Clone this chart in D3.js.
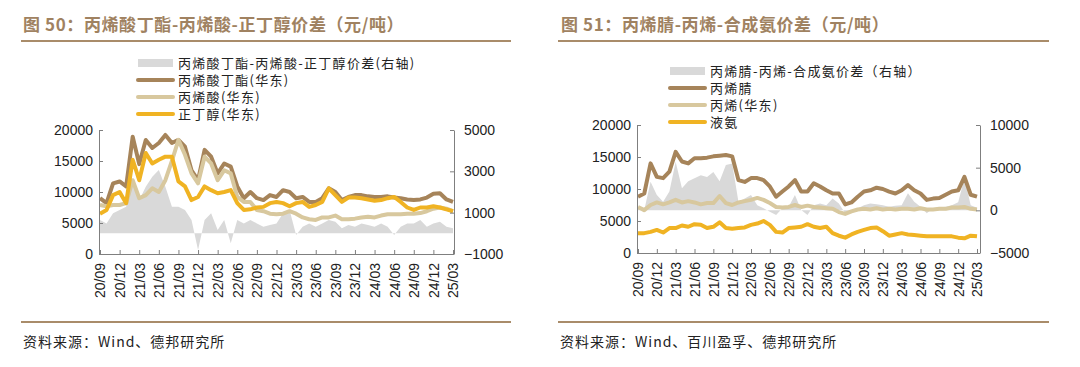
<!DOCTYPE html>
<html>
<head>
<meta charset="utf-8">
<script src="https://cdn.jsdelivr.net/npm/d3@7"></script>
<style>
  body { margin: 0; background: #fff; }
  svg { display: block; }
</style>
</head>
<body>
<svg id="chart" width="1080" height="367"></svg>
<script>
// tick labels, one every 3 months starting 2020/09 (data is monthly, index 0 = 20/09)
let tickLabels = ["20/09", "20/12", "21/03", "21/06", "21/09", "21/12", "22/03", "22/06", "22/09",
    "22/12", "23/03", "23/06", "23/09", "23/12", "24/03", "24/06", "24/09", "24/12", "25/03"];

// ---- left chart: 丙烯酸丁酯-丙烯酸-正丁醇价差
let butylAcrylate = [9000, 8200, 11400, 11700, 10900, 18900, 14500, 18400, 17100, 17900, 19200, 17900,
    18400, 17300, 13500, 11900, 16800, 15700, 13000, 14600, 14100, 10900, 9000, 10000,
    9000, 8700, 9500, 9200, 10300, 10000, 9000, 9200, 8400, 8400, 9000, 10600,
    10000, 8700, 9200, 9500, 9500, 9300, 9200, 9200, 9300, 9100, 9000, 8800,
    8700, 8800, 9100, 9700, 9800, 8800, 8400];
let acrylicAcid = [7900, 7700, 7900, 7900, 8200, 11900, 9000, 9500, 10600, 10000, 11900, 15000,
    18400, 16000, 13000, 11400, 15700, 14600, 11900, 13500, 13000, 9200, 8400, 8400,
    7100, 6900, 6500, 6400, 6500, 6900, 6500, 5900, 5600, 5500, 5900, 5900,
    6200, 5600, 5600, 5700, 5900, 6000, 5900, 6200, 6400, 6400, 6400, 6500,
    6500, 6600, 6900, 7300, 7500, 7300, 6900];
let butanol = [6500, 7100, 9500, 10000, 8200, 15200, 11900, 16300, 14600, 15200, 15700, 15700,
    11700, 10900, 8700, 9200, 10900, 10300, 9800, 10000, 10300, 8200, 7100, 7200,
    7500, 7600, 8200, 8400, 8200, 7700, 8200, 8400, 7600, 7900, 8400, 10600,
    9500, 8400, 9100, 9100, 9000, 8800, 8600, 8700, 9000, 9200, 8400, 7500,
    7100, 7500, 7500, 7700, 7500, 7200, 6900];
let baSpread = [650, 480, 970, 1130, 1290, 2420, 1600, 2260, 2740, 3060, 2260, 1290,
    1290, 1130, 650, -810, 650, 970, 160, 650, -480, 650, 480, 650,
    480, 320, 400, 480, 970, 1130, -80, 320, 480, 320, 480, 650,
    560, 240, 400, 320, 480, 400, 320, 480, 320, -80, 320, 480,
    480, 650, 320, 480, 560, 320, 240];

// ---- right chart: 丙烯腈-丙烯-合成氨价差
let acrylonitrile = [8800, 9300, 14000, 11900, 11700, 12700, 15800, 14300, 14000, 14800, 14800, 14900,
    15100, 15200, 15300, 15100, 11400, 11100, 11700, 11700, 11400, 10400, 8800, 9600,
    10400, 11400, 9600, 9600, 10900, 10400, 9800, 9300, 9300, 7600, 7900, 8800,
    9600, 9800, 10200, 10000, 9600, 9300, 9800, 10600, 9800, 9300, 8300, 8500,
    8600, 9100, 9600, 9800, 11900, 9100, 8800];
let propylene = [7200, 6700, 7500, 7900, 7600, 7900, 8300, 7900, 8100, 7900, 7600, 7800,
    7800, 8900, 7800, 7500, 7900, 8100, 8300, 8600, 8300, 7800, 7200, 7100,
    7200, 7500, 7200, 7400, 7200, 7100, 7000, 6900, 6400, 6100, 6500, 6800,
    6900, 6800, 7000, 6800, 6900, 6800, 6900, 6900, 6800, 7000, 6800, 6800,
    6900, 6900, 7100, 7100, 7200, 6900, 6800];
let ammonia = [3100, 3100, 3300, 3600, 3200, 3900, 3900, 4300, 4100, 4500, 4400, 3900,
    4100, 4800, 3900, 3800, 3900, 4000, 4400, 4600, 5000, 4400, 3300, 3200,
    3900, 4000, 4100, 4500, 4100, 3900, 4100, 3100, 2700, 2400, 2900, 3300,
    3600, 3900, 4000, 3400, 2700, 2900, 3100, 2900, 2800, 2700, 2600, 2600,
    2600, 2600, 2600, 2400, 2300, 2700, 2600];
let anSpread = [430, 40, 3360, 1800, 1000, 2200, 5700, 2600, 3400, 3750, 4100, 3900,
    4500, 3400, 5300, 5500, 1000, 1400, 1800, 600, 230, -160, -550, 230,
    430, 1800, 40, -550, 600, 800, 600, 1400, 800, -350, -160, 230,
    600, 800, 700, 600, 430, 550, 600, 2000, 1000, 430, -350, 230,
    310, 430, 600, 940, 3750, 600, 310];

let leftTicks = [0, 5000, 10000, 15000, 20000];

let svg = d3.select("#chart");

let colorDark = "#a6845a";
let colorTan = "#d8c89e";
let colorYellow = "#f0b323";
let colorGray = "#d9d9d9";
let titleColor = "#a08261";
let cjkFont = "'Noto Sans CJK SC', sans-serif";
let axisFont = "'Liberation Sans', Arial, sans-serif";

function drawChart(cfg) {
    let g = svg.append("g");

    // title + rules
    g.append("text")
        .attr("x", cfg.titleX)
        .attr("y", 31)
        .text(cfg.title)
        .style("font-family", cjkFont)
        .style("font-weight", "bold")
        .style("font-size", "17px")
        .style("letter-spacing", "0.6px")
        .style("fill", titleColor);

    g.append("line")
        .attr("x1", cfg.ruleX1).attr("x2", cfg.ruleX2)
        .attr("y1", 41).attr("y2", 41)
        .style("stroke", "#a98c6a")
        .style("stroke-width", 2);

    g.append("line")
        .attr("x1", cfg.ruleX1).attr("x2", cfg.ruleX2)
        .attr("y1", 322).attr("y2", 322)
        .style("stroke", "#a98c6a")
        .style("stroke-width", 2);

    g.append("text")
        .attr("x", cfg.ruleX1 + 2)
        .attr("y", 347)
        .text(cfg.source)
        .style("font-family", cjkFont)
        .style("font-size", "14px")
        .style("letter-spacing", "1px")
        .style("fill", "#222");

    let x = d3.scaleLinear()
        .domain([0, 54])
        .range([cfg.left, cfg.right]);

    let y = d3.scaleLinear()
        .domain([0, 20000])
        .range([cfg.bottom, cfg.top]);

    let y2 = d3.scaleLinear()
        .domain(cfg.rightDomain)
        .range([cfg.bottom, cfg.top]);

    // spread area (right axis)
    let area = d3.area()
        .x(function (d, i) { return x(i); })
        .y0(y2(0))
        .y1(function (d) { return y2(d); });

    g.append("path")
        .datum(cfg.spread)
        .attr("d", area)
        .style("fill", colorGray);

    let line = d3.line()
        .x(function (d, i) { return x(i); })
        .y(function (d) { return y(d); });

    cfg.lines.forEach(function (s) {
        g.append("path")
            .datum(s.values)
            .attr("d", line)
            .style("fill", "none")
            .style("stroke", s.color)
            .style("stroke-width", 4)
            .style("stroke-linejoin", "round");
    });

    // axes
    let xAxis = g.append("g")
        .attr("transform", "translate(0," + cfg.bottom + ")")
        .call(d3.axisBottom(x)
            .tickValues(d3.range(0, 55, 3))
            .tickFormat(function (d, i) { return tickLabels[i]; })
            .tickSizeInner(-4)
            .tickSizeOuter(0));
    xAxis.select(".domain").attr("d", "M" + (cfg.left - 1) + ",0.5H" + cfg.axisEnd);
    xAxis.selectAll("text")
        .attr("transform", "rotate(-90)")
        .attr("x", -9)
        .attr("y", 0)
        .attr("dy", "0.35em")
        .attr("text-anchor", "end")
        .style("font-family", axisFont)
        .style("font-size", "14px")
        .style("fill", "#222");

    let yAxis = g.append("g")
        .attr("transform", "translate(" + (cfg.left - 1) + ",0)")
        .call(d3.axisLeft(y)
            .tickValues(leftTicks)
            .tickFormat(d3.format("d"))
            .tickSizeInner(-4)
            .tickSizeOuter(0));
    yAxis.selectAll("text")
        .attr("x", -6)
        .style("font-family", axisFont)
        .style("font-size", "14px")
        .style("fill", "#222");

    let y2Axis = g.append("g")
        .attr("transform", "translate(" + cfg.axisEnd + ",0)")
        .call(d3.axisRight(y2)
            .tickValues(cfg.rightTicks)
            .tickFormat(d3.format("d"))
            .tickSizeInner(-4)
            .tickSizeOuter(0));
    y2Axis.selectAll("text")
        .attr("x", 10)
        .style("font-family", axisFont)
        .style("font-size", "14px")
        .style("fill", "#222");

    g.selectAll(".domain").style("stroke", "#7f7f7f");
    g.selectAll(".tick line").style("stroke", "#7f7f7f");

    // legend
    let legend = g.append("g")
        .selectAll("g")
        .data(cfg.legend)
        .enter()
        .append("g")
        .attr("transform", function (d, i) {
            return "translate(" + cfg.legendX + "," + (cfg.legendY + i * 17) + ")";
        });

    legend.each(function (d, i) {
        let item = d3.select(this);
        if (i === 0) {
            item.append("rect")
                .attr("x", 0).attr("y", -4)
                .attr("width", 35).attr("height", 8)
                .style("fill", colorGray);
        } else {
            item.append("line")
                .attr("x1", 0).attr("x2", 35)
                .attr("y1", 0).attr("y2", 0)
                .style("stroke", d.color)
                .style("stroke-width", 4)
                .style("stroke-linecap", "round");
        }
    });

    legend.append("text")
        .attr("x", 40)
        .attr("y", 0)
        .attr("dy", "0.36em")
        .text(function (d) { return d.name; })
        .style("font-family", cjkFont)
        .style("font-size", "13px")
        .style("letter-spacing", "1.3px")
        .style("fill", "#222");
}

drawChart({
    title: "图 50：丙烯酸丁酯-丙烯酸-正丁醇价差（元/吨）",
    source: "资料来源：Wind、德邦研究所",
    titleX: 23, ruleX1: 21, ruleX2: 511,
    left: 100, right: 453, axisEnd: 454, top: 130, bottom: 254,
    rightDomain: [-1000, 5000], rightTicks: [-1000, 1000, 3000, 5000],
    spread: baSpread,
    lines: [
        { values: butylAcrylate, color: colorDark },
        { values: acrylicAcid, color: colorTan },
        { values: butanol, color: colorYellow }
    ],
    legendX: 138, legendY: 63,
    legend: [
        { name: "丙烯酸丁酯-丙烯酸-正丁醇价差(右轴)", color: colorGray },
        { name: "丙烯酸丁酯(华东)", color: colorDark },
        { name: "丙烯酸(华东)", color: colorTan },
        { name: "正丁醇(华东)", color: colorYellow }
    ]
});

drawChart({
    title: "图 51：丙烯腈-丙烯-合成氨价差（元/吨）",
    source: "资料来源：Wind、百川盈孚、德邦研究所",
    titleX: 561, ruleX1: 558, ruleX2: 1049,
    left: 638, right: 977, axisEnd: 980, top: 125, bottom: 253,
    rightDomain: [-5000, 10000], rightTicks: [-5000, 0, 5000, 10000],
    spread: anSpread,
    lines: [
        { values: acrylonitrile, color: colorDark },
        { values: propylene, color: colorTan },
        { values: ammonia, color: colorYellow }
    ],
    legendX: 670, legendY: 71,
    legend: [
        { name: "丙烯腈-丙烯-合成氨价差（右轴）", color: colorGray },
        { name: "丙烯腈", color: colorDark },
        { name: "丙烯(华东)", color: colorTan },
        { name: "液氨", color: colorYellow }
    ]
});
</script>
</body>
</html>
